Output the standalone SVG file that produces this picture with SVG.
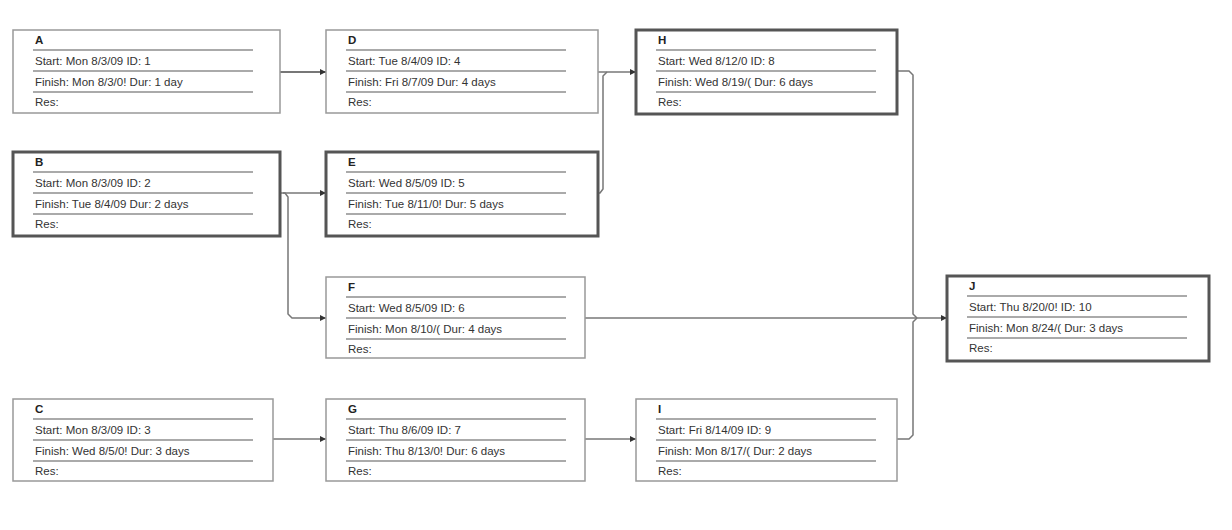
<svg xmlns="http://www.w3.org/2000/svg" width="1232" height="530" viewBox="0 0 1232 530">
<style>
text{font-family:"Liberation Sans Narrow","Liberation Sans",Arial,sans-serif;font-size:11.5px;fill:#333}
.t{font-weight:bold;fill:#222}
.box{fill:#fff;stroke:#999;stroke-width:1.5}
.crit{fill:#fff;stroke:#555;stroke-width:3}
.sep{stroke:#aaa;stroke-width:2}
.c{fill:none;stroke:#777;stroke-width:1.5}
</style>
<defs>
<marker id="ar" viewBox="0 0 10 10" refX="10" refY="5" markerWidth="6" markerHeight="6" markerUnits="userSpaceOnUse" orient="auto"><path d="M0,0L10,5L0,10z" fill="#333"/></marker>
<g id="seps"><line class="sep" x1="20" y1="20" x2="240" y2="20"/><line class="sep" x1="20" y1="41" x2="240" y2="41"/><line class="sep" x1="20" y1="62" x2="240" y2="62"/></g>
</defs>
<g id="connectors">
<path class="c" d="M280,72H326" marker-end="url(#ar)" style="stroke-width:2" />
<path class="c" d="M598,72H636" marker-end="url(#ar)"/>
<path class="c" d="M598,193H600L603,189V76L607,72"/>
<path class="c" d="M280,193H326" marker-end="url(#ar)"/>
<path class="c" d="M283,193H285L288,197V314L292,318H326" marker-end="url(#ar)"/>
<path class="c" d="M585,318H947" marker-end="url(#ar)"/>
<path class="c" d="M897,71H909L913,75V314L917,318"/>
<path class="c" d="M897,439H909L913,435V322L917,318"/>
<path class="c" d="M273,439H326" marker-end="url(#ar)"/>
<path class="c" d="M585,439H636" marker-end="url(#ar)"/>
</g>
<g id="A" transform="translate(13,30)"><rect class="box" width="267" height="83"/><use href="#seps"/><text class="t" x="22" y="14">A</text><text x="22" y="35">Start:  Mon 8/3/09 ID:  1</text><text x="22" y="56">Finish: Mon 8/3/0! Dur: 1 day</text><text x="22" y="76">Res:</text></g>
<g id="D" transform="translate(326,30)"><rect class="box" width="272" height="83"/><use href="#seps"/><text class="t" x="22" y="14">D</text><text x="22" y="35">Start:  Tue 8/4/09  ID:  4</text><text x="22" y="56">Finish: Fri 8/7/09   Dur: 4 days</text><text x="22" y="76">Res:</text></g>
<g id="H" transform="translate(636,30)"><rect class="crit" width="261" height="84"/><use href="#seps"/><text class="t" x="22" y="14">H</text><text x="22" y="35">Start:  Wed 8/12/0 ID:  8</text><text x="22" y="56">Finish: Wed 8/19/( Dur: 6 days</text><text x="22" y="76">Res:</text></g>
<g id="B" transform="translate(13,152)"><rect class="crit" width="267" height="84"/><use href="#seps"/><text class="t" x="22" y="14">B</text><text x="22" y="35">Start:  Mon 8/3/09 ID:  2</text><text x="22" y="56">Finish: Tue 8/4/09  Dur: 2 days</text><text x="22" y="76">Res:</text></g>
<g id="E" transform="translate(326,152)"><rect class="crit" width="272" height="84"/><use href="#seps"/><text class="t" x="22" y="14">E</text><text x="22" y="35">Start:  Wed 8/5/09 ID:  5</text><text x="22" y="56">Finish: Tue 8/11/0! Dur: 5 days</text><text x="22" y="76">Res:</text></g>
<g id="F" transform="translate(326,277)"><rect class="box" width="259" height="81"/><use href="#seps"/><text class="t" x="22" y="14">F</text><text x="22" y="35">Start:  Wed 8/5/09 ID:  6</text><text x="22" y="56">Finish: Mon 8/10/( Dur: 4 days</text><text x="22" y="76">Res:</text></g>
<g id="J" transform="translate(947,276)"><rect class="crit" width="262" height="85"/><use href="#seps"/><text class="t" x="22" y="14">J</text><text x="22" y="35">Start:  Thu 8/20/0! ID:  10</text><text x="22" y="56">Finish: Mon 8/24/( Dur: 3 days</text><text x="22" y="76">Res:</text></g>
<g id="C" transform="translate(13,399)"><rect class="box" width="260" height="82"/><use href="#seps"/><text class="t" x="22" y="14">C</text><text x="22" y="35">Start:  Mon 8/3/09 ID:  3</text><text x="22" y="56">Finish: Wed 8/5/0! Dur: 3 days</text><text x="22" y="76">Res:</text></g>
<g id="G" transform="translate(326,399)"><rect class="box" width="259" height="82"/><use href="#seps"/><text class="t" x="22" y="14">G</text><text x="22" y="35">Start:  Thu 8/6/09  ID:  7</text><text x="22" y="56">Finish: Thu 8/13/0! Dur: 6 days</text><text x="22" y="76">Res:</text></g>
<g id="I" transform="translate(636,399)"><rect class="box" width="261" height="82"/><use href="#seps"/><text class="t" x="22" y="14">I</text><text x="22" y="35">Start:  Fri 8/14/09  ID:  9</text><text x="22" y="56">Finish: Mon 8/17/( Dur: 2 days</text><text x="22" y="76">Res:</text></g>
</svg>
